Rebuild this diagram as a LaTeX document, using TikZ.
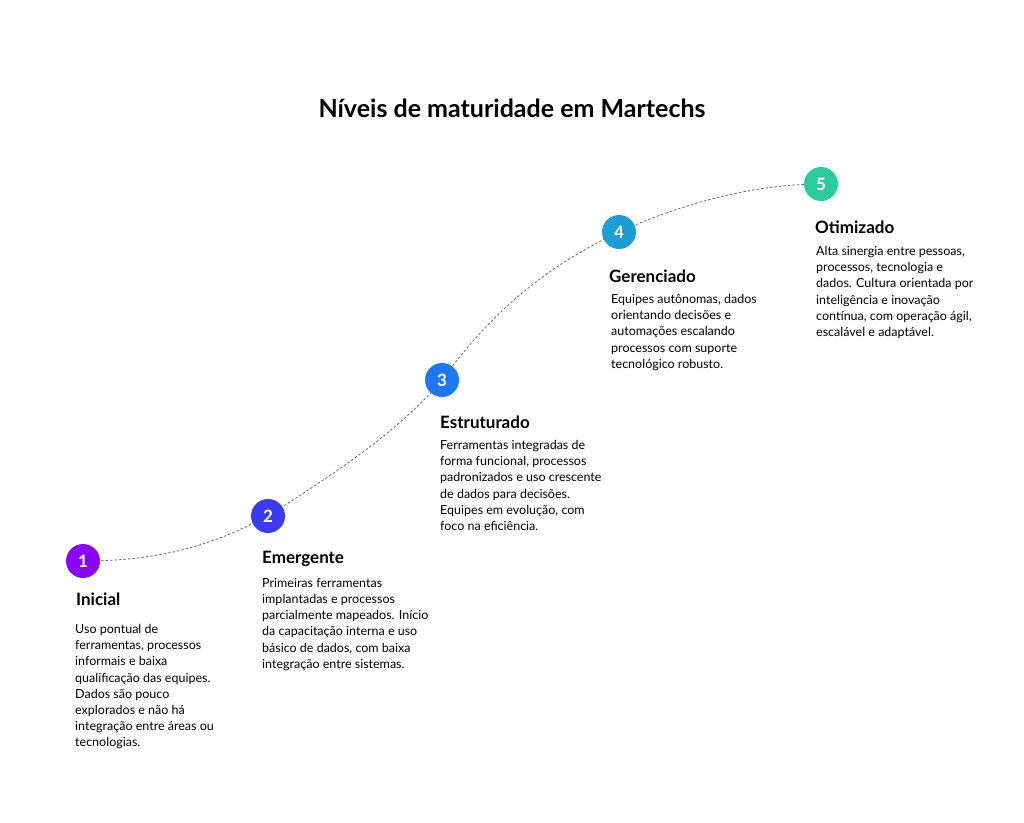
\documentclass[tikz,border=0pt]{standalone}
\usepackage{fontspec}
\setmainfont{Lato}
\usetikzlibrary{positioning}
\definecolor{cA}{HTML}{8A05F5}
\definecolor{cB}{HTML}{3B3BF2}
\definecolor{cC}{HTML}{1F76F2}
\definecolor{cD}{HTML}{1C9DD4}
\definecolor{cE}{HTML}{2CCB9E}
\definecolor{trail}{HTML}{5E6A82}
\tikzset{
 step dot/.style={circle,minimum size=34pt,inner sep=0pt,fill=#1,text=white,font=\fontsize{17}{17}\selectfont\bfseries},
 level title/.style={anchor=base west,inner sep=0pt,font=\fontsize{17}{20}\selectfont\bfseries},
 level text/.style={anchor=north west,inner sep=0pt,align=left,font=\fontsize{12.5}{16.2}\selectfont}
}
\begin{document}
\begin{tikzpicture}[x=1pt,y=-1pt]
 \useasboundingbox[fill=white] (0,0) rectangle (1024,822);
 \node[font=\fontsize{25}{30}\selectfont\bfseries] (title) at (512,108) {Níveis de maturidade em Martechs};
 % trail between the levels
 \draw[trail,dashed,thick,dash pattern=on 2.5pt off 2pt] (83,561) .. controls (180,561) and (230,535) .. (268,516)
   .. controls (340,470) and (400,430) .. (442,380)
   .. controls (500,300) and (560,260) .. (619,232)
   .. controls (690,200) and (760,184) .. (821,184);
 \node[step dot=cA] (n1) at (83,561) {1};
 \node[step dot=cB] (n2) at (268,516) {2};
 \node[step dot=cC] (n3) at (442,380) {3};
 \node[step dot=cD] (n4) at (619,232) {4};
 \node[step dot=cE] (n5) at (821,184) {5};
 % level 1
 \node[level title] (t1) at (76,605) {Inicial};
 \node[level text] (d1) at (75,624) {Uso pontual de\\ferramentas, processos\\informais e baixa\\qualificação das equipes.\\Dados são pouco\\explorados e não há\\integração entre áreas ou\\tecnologias.};
 % level 2
 \node[level title] (t2) at (262,563) {Emergente};
 \node[level text] (d2) at (262,578) {Primeiras ferramentas\\implantadas e processos\\parcialmente mapeados. Início\\da capacitação interna e uso\\básico de dados, com baixa\\integração entre sistemas.};
 % level 3
 \node[level title] (t3) at (440,428) {Estruturado};
 \node[level text] (d3) at (440,440) {Ferramentas integradas de\\forma funcional, processos\\padronizados e uso crescente\\de dados para decisões.\\Equipes em evolução, com\\foco na eficiência.};
 % level 4
 \node[level title] (t4) at (609,282) {Gerenciado};
 \node[level text] (d4) at (611,294) {Equipes autônomas, dados\\orientando decisões e\\automações escalando\\processos com suporte\\tecnológico robusto.};
 % level 5
 \node[level title] (t5) at (815,233) {Otimizado};
 \node[level text] (d5) at (816,246) {Alta sinergia entre pessoas,\\processos, tecnologia e\\dados. Cultura orientada por\\inteligência e inovação\\contínua, com operação ágil,\\escalável e adaptável.};
\end{tikzpicture}
\end{document}
